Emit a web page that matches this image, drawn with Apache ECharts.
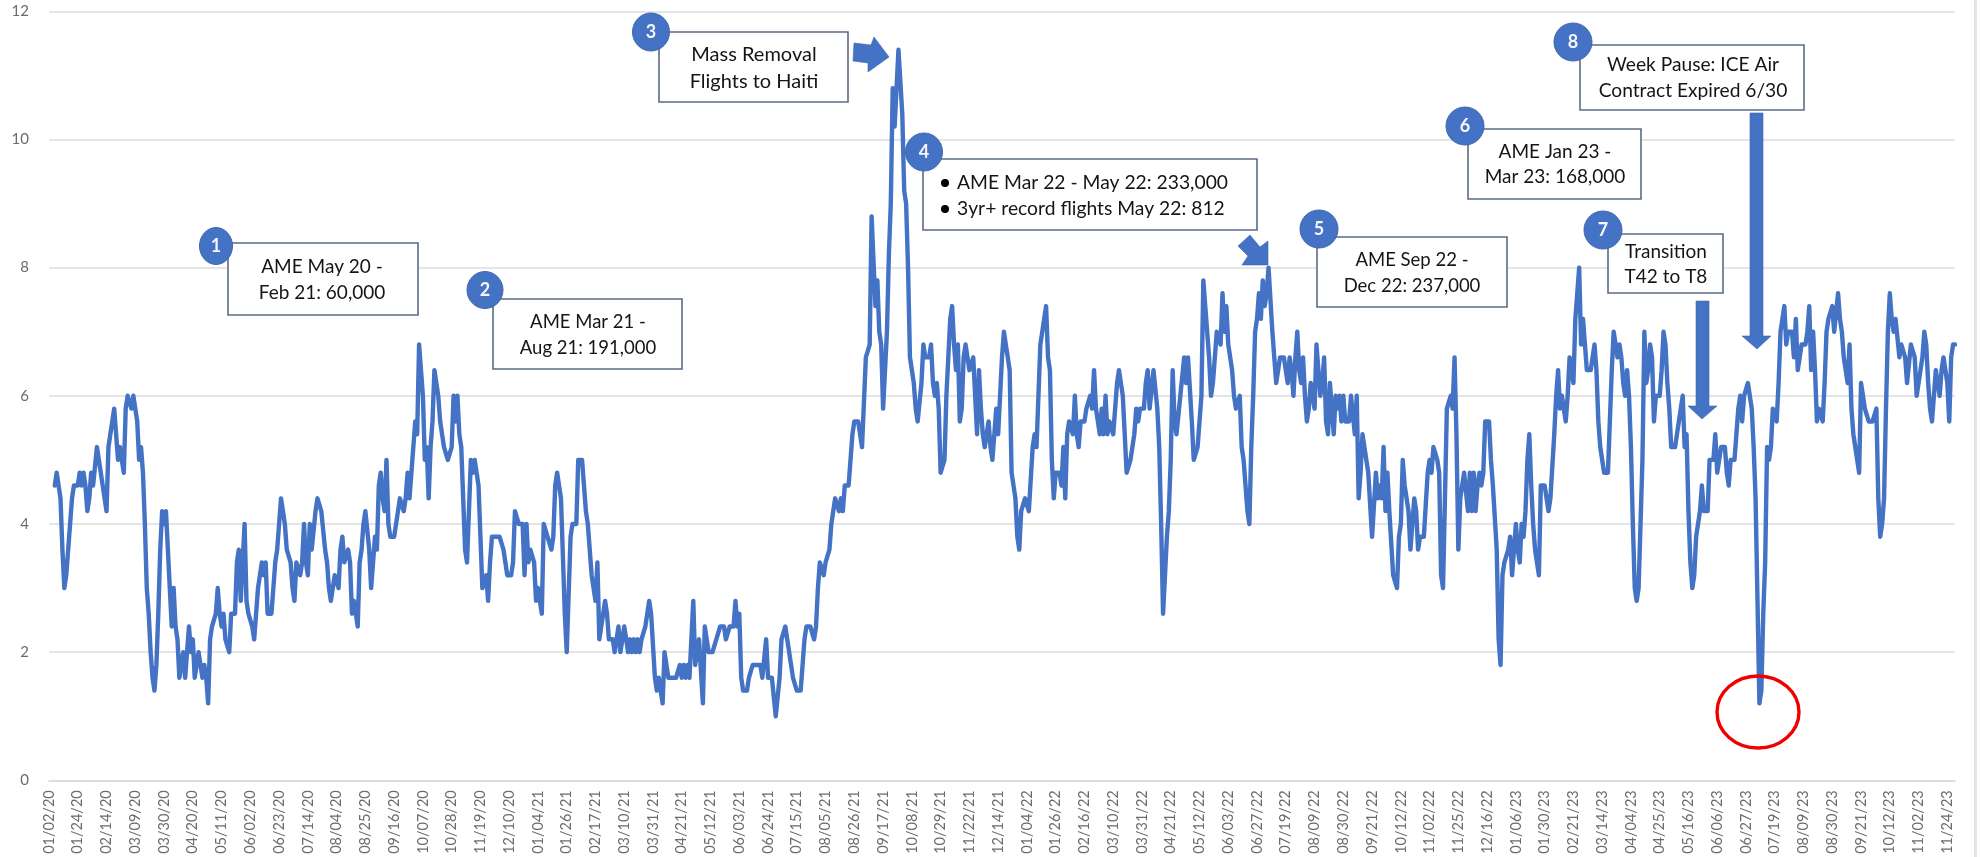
<!DOCTYPE html>
<html>
<head>
<meta charset="utf-8">
<title>Chart</title>
<script src="https://cdn.jsdelivr.net/npm/echarts@6/dist/echarts.min.js"></script>
<style>
html, body { margin: 0; padding: 0; background: #fff; overflow: hidden; }
#main { width: 1981px; height: 857px; }
</style>
</head>
<body>
<div id="main"></div>
<script>
// one label every 15 working days
const tickLabels = [
  '01/02/20','01/24/20','02/14/20','03/09/20','03/30/20','04/20/20','05/11/20','06/02/20','06/23/20','07/14/20','08/04/20','08/25/20','09/16/20','10/07/20','10/28/20','11/19/20','12/10/20',
  '01/04/21','01/26/21','02/17/21','03/10/21','03/31/21','04/21/21','05/12/21','06/03/21','06/24/21','07/15/21','08/05/21','08/26/21','09/17/21','10/08/21','10/29/21','11/22/21','12/14/21',
  '01/04/22','01/26/22','02/16/22','03/10/22','03/31/22','04/21/22','05/12/22','06/03/22','06/27/22','07/19/22','08/09/22','08/30/22','09/21/22','10/12/22','11/02/22','11/25/22','12/16/22',
  '01/06/23','01/30/23','02/21/23','03/14/23','04/04/23','04/25/23','05/16/23','06/06/23','06/27/23','07/19/23','08/09/23','08/30/23','09/21/23','10/12/23','11/02/23','11/24/23'
];

// each row = one tick label interval
const values = [
  null,null,null,4.6,4.8,4.6,4.4,3.6,3.0,3.2,3.6,3.6,4.4,4.6,4.6,
  4.6,4.8,4.6,4.8,4.6,4.2,4.4,4.8,4.6,4.6,5.2,5.2,4.8,4.6,4.4,
  4.2,5.2,5.2,5.6,5.8,5.4,5.0,5.2,5.0,4.8,5.8,6.0,6.0,5.8,6.0,
  5.8,5.6,5.0,5.2,4.8,4.0,3.0,2.6,2.0,1.6,1.4,1.8,2.6,3.6,4.2,
  4.0,4.2,3.6,3.0,2.4,3.0,2.4,2.2,1.6,1.6,2.0,1.6,2.0,2.4,2.0,
  2.2,1.6,1.8,2.0,2.0,1.6,1.8,1.6,1.2,2.2,2.4,2.4,2.6,3.0,2.6,
  2.4,2.6,2.2,2.2,2.0,2.6,2.6,2.6,3.4,3.6,2.8,2.8,4.0,2.8,2.6,
  2.6,2.4,2.2,2.2,3.0,3.2,3.4,3.2,3.4,2.6,2.6,2.6,3.0,3.4,3.6,
  3.6,4.4,4.2,4.0,3.6,3.6,3.4,3.0,2.8,3.4,3.4,3.2,3.4,4.0,3.4,
  3.2,4.0,3.6,3.6,4.2,4.4,4.4,4.2,4.2,3.6,3.4,3.0,2.8,2.8,3.2,
  3.2,3.0,3.6,3.8,3.4,3.4,3.6,3.4,2.6,2.8,2.6,2.4,3.4,3.6,4.0,
  4.2,4.2,3.6,3.0,3.4,3.8,3.6,4.6,4.8,4.4,4.2,5.0,4.0,3.8,3.8,
  3.8,4.0,4.0,4.4,4.4,4.2,4.4,4.8,4.4,4.8,5.2,5.6,5.4,6.8,6.8,
  6.0,5.0,5.2,4.4,5.2,5.6,6.4,6.4,6.0,5.6,5.4,5.2,5.2,5.0,5.0,
  5.2,6.0,5.6,6.0,5.4,5.2,5.2,3.6,3.4,4.2,5.0,4.8,5.0,4.8,4.6,
  3.8,3.0,3.0,3.2,2.8,3.4,3.8,3.8,3.8,3.8,3.8,3.8,3.6,3.4,3.2,
  3.2,3.2,3.4,4.2,4.2,4.0,4.0,4.0,3.2,4.0,3.4,3.6,3.6,3.4,2.8,
  3.0,2.8,2.6,4.0,4.0,3.8,3.8,3.6,3.8,4.6,4.8,4.6,4.4,4.4,2.6,
  2.0,2.0,3.8,4.0,4.0,4.0,5.0,5.0,5.0,4.6,4.2,4.0,4.0,3.2,3.0,
  2.8,3.4,2.2,2.2,2.6,2.8,2.6,2.2,2.2,2.2,2.0,2.0,2.4,2.0,2.2,
  2.4,2.4,2.0,2.2,2.0,2.2,2.0,2.2,2.0,2.2,2.2,2.4,2.6,2.8,2.6,
  2.6,1.6,1.4,1.6,1.6,1.2,2.0,2.0,1.6,1.6,1.6,1.6,1.6,1.6,1.8,
  1.6,1.8,1.6,1.8,1.6,1.6,2.8,1.8,1.8,2.2,2.2,1.2,2.4,2.2,2.0,
  2.0,2.0,2.0,2.2,2.2,2.4,2.4,2.4,2.2,2.2,2.4,2.4,2.4,2.8,2.4,
  2.6,1.6,1.4,1.4,1.4,1.6,1.6,1.8,1.8,1.8,1.8,1.8,1.6,1.6,2.2,
  1.6,1.6,1.6,1.6,1.0,1.0,1.6,2.2,2.2,2.4,2.2,2.0,2.0,1.6,1.6,
  1.4,1.4,1.4,1.4,2.2,2.4,2.4,2.4,2.4,2.2,2.4,3.0,3.4,3.4,3.2,
  3.4,3.4,3.6,4.0,4.2,4.4,4.4,4.2,4.4,4.2,4.6,4.6,4.6,5.0,5.4,
  5.6,5.6,5.6,5.6,5.2,5.2,6.6,6.6,6.8,8.8,8.8,7.4,7.8,7.0,6.8,
  5.8,5.8,7.0,8.2,9.0,10.8,10.2,10.8,11.4,11.4,10.4,9.2,9.0,8.0,6.6,
  6.4,6.2,5.8,5.6,5.6,6.2,6.8,6.6,6.6,6.6,6.8,6.2,6.0,6.2,5.8,
  4.8,4.8,5.0,6.0,6.6,7.2,7.4,6.8,6.4,6.8,5.6,5.8,6.6,6.8,6.8,
  6.4,6.4,6.6,6.6,5.4,6.4,5.8,5.4,5.2,5.2,5.6,5.2,5.0,5.0,5.8,
  5.4,5.4,6.6,7.0,6.8,6.8,6.4,4.8,4.6,4.4,3.8,3.6,4.2,4.2,4.4,
  4.4,4.2,4.2,5.2,5.4,5.2,6.0,6.8,7.0,7.2,7.4,6.6,6.4,5.0,4.4,
  4.8,4.8,4.8,4.6,5.2,4.4,5.4,5.6,5.6,5.4,6.0,5.4,5.2,5.6,5.6,
  5.6,5.8,5.8,6.0,5.8,6.4,5.8,5.8,5.4,5.8,5.4,6.0,5.4,5.6,5.6,
  5.4,5.4,6.2,6.4,6.2,6.0,5.4,4.8,4.8,5.0,5.2,5.4,5.8,5.6,5.8,
  5.8,5.8,6.2,6.4,5.8,5.8,6.4,6.4,5.8,5.2,4.0,2.6,2.6,3.8,4.2,
  5.0,6.4,5.6,5.4,5.4,6.0,6.0,6.6,6.2,6.6,6.6,5.6,5.0,5.0,5.2,
  5.2,6.0,7.8,7.8,7.0,6.6,6.0,6.2,6.2,7.0,7.0,6.8,7.6,7.0,7.4,
  6.8,6.8,6.4,6.0,5.8,5.8,6.0,5.2,5.0,5.0,4.2,4.0,5.2,6.0,7.0,
  7.2,7.6,7.2,7.8,7.4,7.6,8.0,8.0,7.0,6.6,6.2,6.2,6.6,6.6,6.6,
  6.4,6.2,6.6,6.4,6.0,6.6,7.0,6.4,6.2,6.6,6.0,5.6,5.8,6.2,6.2,
  5.8,6.8,6.8,6.0,6.2,6.6,5.6,5.4,6.2,6.2,5.4,6.0,5.8,6.0,5.6,
  6.0,5.6,5.6,5.6,6.0,6.0,5.4,6.0,4.4,4.8,5.4,5.2,5.2,4.8,4.8,
  3.8,3.8,4.8,4.4,4.6,4.4,5.2,4.2,4.8,4.2,4.2,3.2,3.2,3.0,3.8,
  4.0,5.0,4.6,4.4,4.2,3.6,3.6,4.4,4.2,3.6,3.8,3.8,3.8,3.8,4.8,
  5.0,4.8,5.2,5.2,5.0,4.8,3.2,3.0,3.0,5.8,5.8,6.0,5.8,6.6,5.4,
  3.6,4.4,4.6,4.8,4.8,4.2,4.8,4.2,4.8,4.2,4.6,4.8,4.6,4.8,5.6,
  5.6,5.6,5.0,4.6,4.6,3.6,2.2,1.8,3.2,3.4,3.4,3.6,3.8,3.2,3.6,
  4.0,3.6,3.4,4.0,3.8,4.2,5.0,5.4,4.6,4.0,3.6,3.4,3.2,4.6,4.6,
  4.6,4.4,4.2,4.4,4.4,5.4,6.0,6.4,5.8,6.0,5.8,5.6,6.0,6.6,6.6,
  6.2,7.2,7.6,8.0,6.8,7.2,6.8,6.4,6.4,6.4,6.4,6.8,6.4,5.6,5.2,
  5.0,4.8,4.8,4.8,5.6,6.4,7.0,7.0,6.6,6.8,6.6,6.2,6.0,6.4,6.0,
  5.2,4.0,3.0,2.8,3.0,3.0,5.0,7.0,6.2,6.4,6.8,6.6,5.6,6.0,6.0,
  6.0,6.4,7.0,6.8,6.2,5.8,5.2,5.2,5.2,5.4,5.4,5.8,6.0,5.2,5.4,
  4.2,3.4,3.0,3.2,3.8,3.8,4.2,4.6,4.2,4.2,4.2,5.0,5.0,5.0,5.4,
  4.8,5.0,5.2,5.2,5.2,4.8,4.6,5.0,5.0,5.0,5.0,5.8,6.0,5.6,6.0,
  6.0,6.2,6.2,5.8,5.2,4.4,2.8,1.2,1.4,2.6,3.4,5.2,5.0,5.2,5.8,
  5.8,5.6,6.2,7.0,7.0,7.4,6.8,7.0,7.0,7.0,6.6,7.2,6.4,6.6,6.8,
  6.8,6.8,7.0,7.4,6.4,7.0,6.4,5.6,5.8,5.8,5.6,6.2,7.0,7.2,7.2,
  7.4,7.0,7.0,7.6,7.2,7.0,6.6,6.4,6.2,6.8,5.8,5.4,5.4,5.0,4.8,
  6.2,6.2,5.8,5.8,5.6,5.6,5.6,5.6,5.8,4.4,3.8,4.0,4.4,5.8,7.0,
  7.6,7.2,7.0,7.2,7.2,6.6,6.8,6.8,6.6,6.2,6.2,6.8,6.8,6.6,6.0,
  6.0,6.4,6.6,7.0,6.8,6.2,5.8,5.6,6.0,6.4,6.4,6.0,6.4,6.6,6.4,
  6.2,5.6,6.6,6.8,6.8
];

const noteNumbers = ['1','2','3','4','5','6','7','8'];
const noteLines = [
  ['AME May 20 -', 'Feb 21: 60,000'],
  ['AME Mar 21 -', 'Aug 21: 191,000'],
  ['Mass Removal', 'Flights to Haiti'],
  ['AME Mar 22 - May 22: 233,000', '3yr+ record flights May 22: 812'],
  ['AME Sep 22 -', 'Dec 22: 237,000'],
  ['AME Jan 23 -', 'Mar 23: 168,000'],
  ['Transition', 'T42 to T8'],
  ['Week Pause: ICE Air', 'Contract Expired 6/30']
];

const BLUE = '#4472C4';
const categories = values.map((v, i) => i % 15 === 0 ? tickLabels[i / 15] : '');

function box(x1, y1, x2, y2) {
  return {
    type: 'rect', z: 10,
    shape: { x: x1, y: y1, width: x2 - x1, height: y2 - y1 },
    style: { fill: '#fff', stroke: '#5b6b85', lineWidth: 1.6 }
  };
}
function txt(x, y, s, size, align) {
  return {
    type: 'text', z: 12,
    style: { x: x, y: y, text: s, fill: '#151515', font: size + 'px Lato', align: align || 'center', verticalAlign: 'middle' }
  };
}
function badge(cx, cy, rx, ry, s) {
  return [
    { type: 'ellipse', z: 13, shape: { cx: cx, cy: cy, rx: rx, ry: ry }, style: { fill: BLUE, stroke: '#3f66ab', lineWidth: 1 } },
    { type: 'text', z: 14, style: { x: cx, y: cy, text: s, fill: '#f4f6fb', font: 'bold 18px Lato', align: 'center', verticalAlign: 'middle' } }
  ];
}
function arrow(points) {
  return { type: 'polygon', z: 11, shape: { points: points }, style: { fill: BLUE, stroke: '#3f66ab', lineWidth: 0.6 } };
}

const graphics = [
  box(228, 243, 418, 315), txt(322, 267, noteLines[0][0], 19), txt(322, 293, noteLines[0][1], 19),
  box(493, 299, 682, 369), txt(588, 322, noteLines[1][0], 18.5), txt(588, 348, noteLines[1][1], 18.5),
  box(659, 32, 848, 102), txt(754, 55, noteLines[2][0], 20), txt(754, 82, noteLines[2][1], 20),
  box(923, 159, 1257, 230), txt(957, 183, noteLines[3][0], 19.3, 'left'), txt(957, 209, noteLines[3][1], 19.3, 'left'),
  { type: 'circle', z: 12, shape: { cx: 945, cy: 183, r: 4 }, style: { fill: '#000' } },
  { type: 'circle', z: 12, shape: { cx: 945, cy: 209, r: 4 }, style: { fill: '#000' } },
  box(1317, 237, 1507, 307), txt(1412, 260, noteLines[4][0], 18.5), txt(1412, 286, noteLines[4][1], 18.5),
  box(1468, 129, 1641, 199), txt(1555, 152, noteLines[5][0], 19), txt(1555, 177, noteLines[5][1], 19),
  box(1608, 234, 1723, 293), txt(1666, 252, noteLines[6][0], 19), txt(1666, 277, noteLines[6][1], 19),
  box(1580, 45, 1804, 110), txt(1693, 65, noteLines[7][0], 19.2), txt(1693, 91, noteLines[7][1], 19.2),
  ...badge(216, 246, 16.5, 18.5, noteNumbers[0]),
  ...badge(485, 290, 18, 18.5, noteNumbers[1]),
  ...badge(651, 32, 18.5, 19, noteNumbers[2]),
  ...badge(924, 152, 18.5, 19, noteNumbers[3]),
  ...badge(1319, 229, 19, 19, noteNumbers[4]),
  ...badge(1465, 126, 19, 19, noteNumbers[5]),
  ...badge(1603, 230, 19, 19, noteNumbers[6]),
  ...badge(1573, 42, 19, 19, noteNumbers[7]),
  arrow([[854, 43], [871, 45], [874, 37], [889, 57], [868, 72], [868, 63], [853, 61]]),
  arrow([[1250, 235], [1260, 247], [1268, 241], [1268, 265], [1242, 265], [1248, 256], [1238, 246]]),
  arrow([[1696, 301], [1709, 301], [1709, 406], [1717, 406], [1702, 419], [1688, 406], [1696, 406]]),
  arrow([[1750, 113], [1763, 113], [1763, 336], [1771, 336], [1757, 349], [1742, 336], [1750, 336]]),
  { type: 'ellipse', z: 11, shape: { cx: 1758, cy: 712, rx: 41, ry: 36 }, style: { fill: 'none', stroke: '#f00000', lineWidth: 3.4 } },
  { type: 'rect', z: 1, shape: { x: 1974, y: 0, width: 3, height: 857 }, style: { fill: '#e4e4e4' } }
];

const chart = echarts.init(document.getElementById('main'));
chart.setOption({
  animation: false,
  backgroundColor: '#fff',
  grid: { left: 49, right: 26, top: 11.3, bottom: 76.7 },
  xAxis: {
    type: 'category',
    data: categories,
    boundaryGap: false,
    axisLine: { show: true, lineStyle: { color: '#dcdcdc', width: 1.6 } },
    axisTick: { show: false },
    axisLabel: {
      interval: (i) => i % 15 === 0,
      rotate: 90,
      margin: 10,
      color: '#6b6b6b',
      fontFamily: 'Lato',
      fontSize: 14.5
    }
  },
  yAxis: {
    type: 'value',
    min: 0,
    max: 12,
    interval: 2,
    axisLine: { show: false },
    axisTick: { show: false },
    axisLabel: { margin: 20, color: '#6b6b6b', fontFamily: 'Lato', fontSize: 15 },
    splitLine: { lineStyle: { color: '#dcdcdc', width: 1.6 } }
  },
  series: [{
    type: 'line',
    data: values,
    showSymbol: false,
    sampling: 'none',
    connectNulls: false,
    lineStyle: { color: BLUE, width: 4.4, join: 'round', cap: 'round' }
  }],
  graphic: graphics
});
</script>
</body>
</html>
